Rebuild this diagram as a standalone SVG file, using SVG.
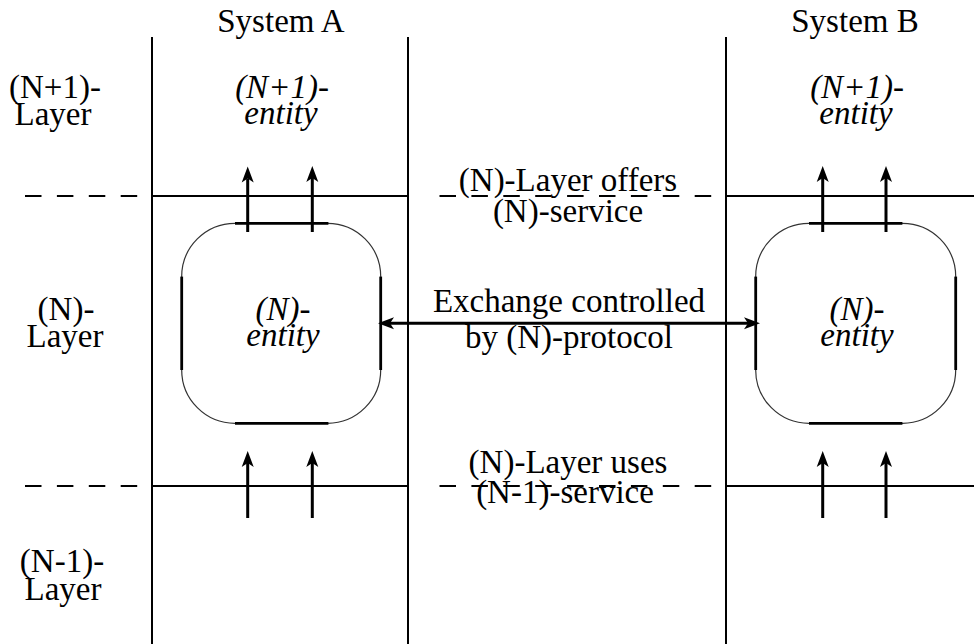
<svg xmlns="http://www.w3.org/2000/svg" width="974" height="644" viewBox="0 0 974 644">
<defs>
<style>
text{font-family:'Liberation Serif','Times New Roman',serif;font-size:33px;fill:#000;text-anchor:middle}
.it{font-style:italic}
.frame{stroke:#000;stroke-width:2;fill:none}
.dash{stroke:#000;stroke-width:2;fill:none;stroke-dasharray:16.5 15.4}
.arc{stroke:#333;stroke-width:1.2;fill:none}
.side{stroke:#000;stroke-width:2.8;fill:none}
.conn{stroke:#000;stroke-width:3;fill:none}
</style>
<marker id="ah" markerUnits="userSpaceOnUse" markerWidth="17" markerHeight="14" viewBox="0 -7 17 14" refX="4" refY="0" orient="auto-start-reverse">
<path d="M0,-6 L16,0 L0,6 L4,0 Z" fill="#000"/>
</marker>
</defs>
<rect width="974" height="644" fill="#fff"/>

<g id="frame">
<line class="frame" x1="152" y1="37" x2="152" y2="644"/>
<line class="frame" x1="408" y1="37" x2="408" y2="644"/>
<line class="frame" x1="726" y1="37" x2="726" y2="644"/>
<line class="frame" x1="152" y1="196" x2="408" y2="196"/>
<line class="frame" x1="726" y1="196" x2="974" y2="196"/>
<line class="frame" x1="152" y1="486" x2="408" y2="486"/>
<line class="frame" x1="726" y1="486" x2="974" y2="486"/>
<line class="dash" x1="25" y1="196" x2="138" y2="196"/>
<line class="dash" x1="439.5" y1="196" x2="712" y2="196"/>
<line class="dash" x1="25" y1="486" x2="138" y2="486"/>
<line class="dash" x1="439.5" y1="486" x2="712" y2="486"/>
</g>

<g id="labels">
<text x="281" y="32">System A</text>
<text x="855" y="32">System B</text>
<text x="55" y="98">(N+1)-</text>
<text x="53" y="125">Layer</text>
<text x="66" y="320">(N)-</text>
<text x="65" y="347">Layer</text>
<text x="62" y="572">(N-1)-</text>
<text x="63" y="600">Layer</text>
<text x="568" y="191">(N)-Layer offers</text>
<text x="568" y="222">(N)-service</text>
<text x="568" y="473">(N)-Layer uses</text>
<text x="565" y="503">(N-1)-service</text>
<text x="569" y="312">Exchange controlled</text>
<text x="569" y="348">by (N)-protocol</text>
</g>

<g id="entityA1">
<text class="it" x="282" y="98">(N+1)-</text>
<text class="it" x="281" y="124">entity</text>
</g>
<g id="entityB1">
<text class="it" x="857" y="98">(N+1)-</text>
<text class="it" x="856" y="124">entity</text>
</g>

<g id="entityA">
<rect class="arc" x="181.7" y="223.3" width="199" height="200" rx="53.3" ry="53.3"/>
<line class="side" x1="235" y1="223.3" x2="328.4" y2="223.3"/>
<line class="side" x1="235" y1="423.3" x2="328.4" y2="423.3"/>
<line class="side" x1="181.7" y1="276.6" x2="181.7" y2="370"/>
<line class="side" x1="380.7" y1="276.6" x2="380.7" y2="370"/>
<text class="it" x="283" y="320">(N)-</text>
<text class="it" x="283" y="346">entity</text>
</g>

<g id="entityB">
<rect class="arc" x="755.7" y="223.3" width="200" height="200" rx="53.3" ry="53.3"/>
<line class="side" x1="809" y1="223.3" x2="902.4" y2="223.3"/>
<line class="side" x1="809" y1="423.3" x2="902.4" y2="423.3"/>
<line class="side" x1="755.7" y1="276.6" x2="755.7" y2="370"/>
<line class="side" x1="955.7" y1="276.6" x2="955.7" y2="370"/>
<text class="it" x="857" y="320">(N)-</text>
<text class="it" x="857" y="346">entity</text>
</g>

<g id="connectors">
<line class="conn" x1="247.7" y1="232" x2="247.7" y2="178.5" marker-end="url(#ah)"/>
<line class="conn" x1="312.3" y1="232" x2="312.3" y2="178" marker-end="url(#ah)"/>
<line class="conn" x1="822.7" y1="232" x2="822.7" y2="178" marker-end="url(#ah)"/>
<line class="conn" x1="886" y1="232" x2="886" y2="178" marker-end="url(#ah)"/>
<line class="conn" x1="247.7" y1="518" x2="247.7" y2="463" marker-end="url(#ah)"/>
<line class="conn" x1="312.3" y1="518" x2="312.3" y2="463" marker-end="url(#ah)"/>
<line class="conn" x1="822.7" y1="518" x2="822.7" y2="463" marker-end="url(#ah)"/>
<line class="conn" x1="886" y1="518" x2="886" y2="463" marker-end="url(#ah)"/>
<line class="conn" x1="390" y1="323.3" x2="748" y2="323.3" marker-start="url(#ah)" marker-end="url(#ah)"/>
</g>
</svg>
